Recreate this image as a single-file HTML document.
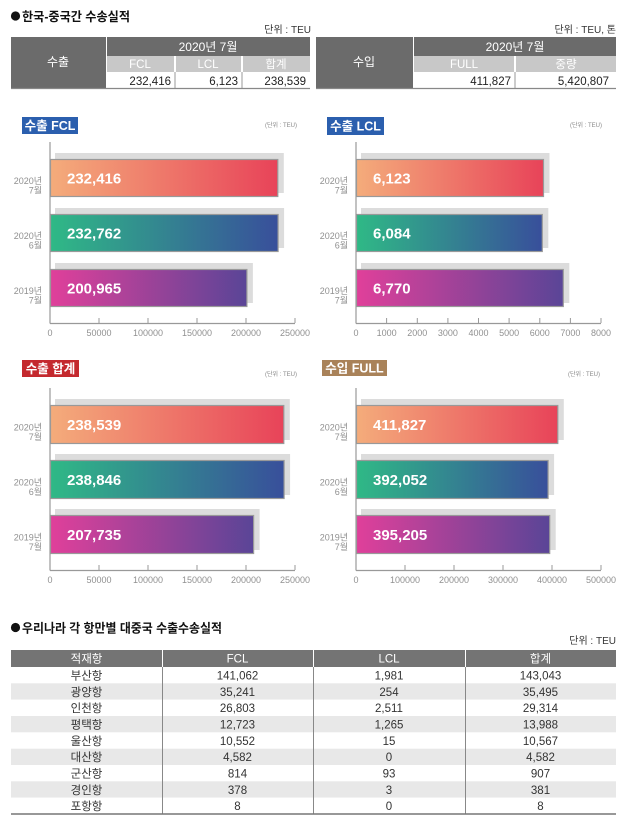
<!DOCTYPE html>
<html><head><meta charset="utf-8">
<style>
html,body{margin:0;padding:0;background:#fff;}
svg{display:block;}
text{font-family:"Liberation Sans","Noto Sans CJK KR",sans-serif;}
</style></head>
<body>
<svg width="626" height="821" viewBox="0 0 626 821" xmlns="http://www.w3.org/2000/svg">
<defs>
<linearGradient id="gO" x1="0" y1="0" x2="1" y2="0"><stop offset="0" stop-color="#f4ac7b"/><stop offset="1" stop-color="#e84359"/></linearGradient>
<linearGradient id="gT" x1="0" y1="0" x2="1" y2="0"><stop offset="0" stop-color="#2fb986"/><stop offset="1" stop-color="#384f9b"/></linearGradient>
<linearGradient id="gP" x1="0" y1="0" x2="1" y2="0"><stop offset="0" stop-color="#e0409a"/><stop offset="1" stop-color="#5a4597"/></linearGradient>
</defs>

<!-- ===== Top title ===== -->
<circle cx="15.5" cy="16" r="4.6" fill="#111"/>
<text x="22" y="21" font-size="12.5" font-weight="bold" fill="#111" textLength="108" lengthAdjust="spacingAndGlyphs">한국-중국간 수송실적</text>
<text x="311" y="33" font-size="10" fill="#333" text-anchor="end">단위 : TEU</text>
<text x="616" y="33" font-size="10" fill="#333" text-anchor="end">단위 : TEU, 톤</text>

<!-- Left table -->
<rect x="11" y="37" width="95" height="51" fill="#6b6b6b"/>
<rect x="107" y="37" width="203" height="19" fill="#6b6b6b"/>
<rect x="107" y="56" width="67" height="16" fill="#c8c8c8"/>
<rect x="176" y="56" width="65" height="16" fill="#c8c8c8"/>
<rect x="243" y="56" width="67" height="16" fill="#c8c8c8"/>
<line x1="175" y1="72" x2="175" y2="88" stroke="#999" stroke-width="1"/>
<line x1="242" y1="72" x2="242" y2="88" stroke="#999" stroke-width="1"/>
<line x1="11" y1="88.5" x2="310" y2="88.5" stroke="#888" stroke-width="1.2"/>
<text x="58" y="66" font-size="12" fill="#fff" text-anchor="middle">수출</text>
<text x="208" y="51" font-size="12" fill="#fff" text-anchor="middle">2020년 7월</text>
<text x="140" y="68" font-size="11.5" fill="#fff" text-anchor="middle">FCL</text>
<text x="208" y="68" font-size="11.5" fill="#fff" text-anchor="middle">LCL</text>
<text x="276" y="68" font-size="11.5" fill="#fff" text-anchor="middle">합계</text>
<text x="171" y="85" font-size="11.5" fill="#222" text-anchor="end">232,416</text>
<text x="238" y="85" font-size="11.5" fill="#222" text-anchor="end">6,123</text>
<text x="306" y="85" font-size="11.5" fill="#222" text-anchor="end">238,539</text>

<!-- Right table -->
<rect x="316" y="37" width="97" height="51" fill="#6b6b6b"/>
<rect x="414" y="37" width="202" height="19" fill="#6b6b6b"/>
<rect x="414" y="56" width="100" height="16" fill="#c8c8c8"/>
<rect x="516" y="56" width="100" height="16" fill="#c8c8c8"/>
<line x1="515" y1="72" x2="515" y2="88" stroke="#999" stroke-width="1"/>
<line x1="316" y1="88.5" x2="616" y2="88.5" stroke="#888" stroke-width="1.2"/>
<text x="364" y="66" font-size="12" fill="#fff" text-anchor="middle">수입</text>
<text x="515" y="51" font-size="12" fill="#fff" text-anchor="middle">2020년 7월</text>
<text x="464" y="68" font-size="11.5" fill="#fff" text-anchor="middle">FULL</text>
<text x="566" y="68" font-size="11.5" fill="#fff" text-anchor="middle">중량</text>
<text x="511" y="85" font-size="11.5" fill="#222" text-anchor="end">411,827</text>
<text x="609" y="85" font-size="11.5" fill="#222" text-anchor="end">5,420,807</text>

<!-- ===== Chart A: 수출 FCL ===== -->
<rect x="22" y="117" width="56" height="17" fill="#2b5fae"/>
<text x="50" y="130" font-size="12.5" font-weight="bold" fill="#fff" text-anchor="middle">수출 FCL</text>
<text x="297" y="127" font-size="6" fill="#888" text-anchor="end">(단위 : TEU)</text>
<g>
<rect x="55" y="153" width="228.8" height="40" fill="#dcdcdc"/>
<rect x="50.5" y="159.5" width="227.3" height="37" fill="url(#gO)" stroke="#999" stroke-width="1.2"/>
<rect x="55" y="208" width="229.1" height="40" fill="#dcdcdc"/>
<rect x="50.5" y="214.5" width="227.6" height="37" fill="url(#gT)" stroke="#999" stroke-width="1.2"/>
<rect x="55" y="263" width="197.9" height="40" fill="#dcdcdc"/>
<rect x="50.5" y="269.5" width="196.4" height="37" fill="url(#gP)" stroke="#999" stroke-width="1.2"/>
<text x="67" y="183.5" font-size="15" font-weight="bold" fill="#fff">232,416</text>
<text x="67" y="238.5" font-size="15" font-weight="bold" fill="#fff">232,762</text>
<text x="67" y="293.5" font-size="15" font-weight="bold" fill="#fff">200,965</text>
<g font-size="9" fill="#909090" text-anchor="end">
<text x="42" y="184">2020년</text><text x="42" y="193.5">7월</text>
<text x="42" y="239">2020년</text><text x="42" y="248.5">6월</text>
<text x="42" y="294">2019년</text><text x="42" y="303.5">7월</text>
</g>
<line x1="50" y1="142" x2="50" y2="323.5" stroke="#999" stroke-width="1.2"/>
<line x1="50" y1="323.5" x2="295" y2="323.5" stroke="#999" stroke-width="1.2"/>
<g stroke="#999" stroke-width="1"><line x1="99" y1="318" x2="99" y2="323"/><line x1="148" y1="318" x2="148" y2="323"/><line x1="197" y1="318" x2="197" y2="323"/><line x1="246" y1="318" x2="246" y2="323"/><line x1="295" y1="318" x2="295" y2="323"/></g>
<g font-size="9" fill="#909090" text-anchor="middle">
<text x="50" y="336">0</text><text x="99" y="336">50000</text><text x="148" y="336">100000</text><text x="197" y="336">150000</text><text x="246" y="336">200000</text><text x="295" y="336">250000</text>
</g>
</g>

<!-- ===== Chart B: 수출 LCL ===== -->
<rect x="327" y="117" width="57" height="18" fill="#2b5fae"/>
<text x="355.5" y="130.5" font-size="12.5" font-weight="bold" fill="#fff" text-anchor="middle">수출 LCL</text>
<text x="602" y="127" font-size="6" fill="#888" text-anchor="end">(단위 : TEU)</text>
<g>
<rect x="361" y="153" width="188.5" height="40" fill="#dcdcdc"/>
<rect x="356.5" y="159.5" width="187" height="37" fill="url(#gO)" stroke="#999" stroke-width="1.2"/>
<rect x="361" y="208" width="187.3" height="40" fill="#dcdcdc"/>
<rect x="356.5" y="214.5" width="185.8" height="37" fill="url(#gT)" stroke="#999" stroke-width="1.2"/>
<rect x="361" y="263" width="208.3" height="40" fill="#dcdcdc"/>
<rect x="356.5" y="269.5" width="206.8" height="37" fill="url(#gP)" stroke="#999" stroke-width="1.2"/>
<text x="373" y="183.5" font-size="15" font-weight="bold" fill="#fff">6,123</text>
<text x="373" y="238.5" font-size="15" font-weight="bold" fill="#fff">6,084</text>
<text x="373" y="293.5" font-size="15" font-weight="bold" fill="#fff">6,770</text>
<g font-size="9" fill="#909090" text-anchor="end">
<text x="348" y="184">2020년</text><text x="348" y="193.5">7월</text>
<text x="348" y="239">2020년</text><text x="348" y="248.5">6월</text>
<text x="348" y="294">2019년</text><text x="348" y="303.5">7월</text>
</g>
<line x1="356" y1="142" x2="356" y2="323.5" stroke="#999" stroke-width="1.2"/>
<line x1="356" y1="323.5" x2="601" y2="323.5" stroke="#999" stroke-width="1.2"/>
<g stroke="#999" stroke-width="1"><line x1="386.6" y1="318" x2="386.6" y2="323"/><line x1="417.3" y1="318" x2="417.3" y2="323"/><line x1="447.9" y1="318" x2="447.9" y2="323"/><line x1="478.5" y1="318" x2="478.5" y2="323"/><line x1="509.1" y1="318" x2="509.1" y2="323"/><line x1="539.8" y1="318" x2="539.8" y2="323"/><line x1="570.4" y1="318" x2="570.4" y2="323"/><line x1="601" y1="318" x2="601" y2="323"/></g>
<g font-size="9" fill="#909090" text-anchor="middle">
<text x="356" y="336">0</text><text x="386.6" y="336">1000</text><text x="417.3" y="336">2000</text><text x="447.9" y="336">3000</text><text x="478.5" y="336">4000</text><text x="509.1" y="336">5000</text><text x="539.8" y="336">6000</text><text x="570.4" y="336">7000</text><text x="601" y="336">8000</text>
</g>
</g>

<!-- ===== Chart C: 수출 합계 ===== -->
<rect x="22" y="360" width="57" height="17" fill="#c4292e"/>
<text x="50.5" y="373" font-size="12.5" font-weight="bold" fill="#fff" text-anchor="middle">수출 합계</text>
<text x="297" y="376" font-size="6" fill="#888" text-anchor="end">(단위 : TEU)</text>
<g>
<rect x="55" y="399" width="234.8" height="41" fill="#dcdcdc"/>
<rect x="50.5" y="405.5" width="233.3" height="38" fill="url(#gO)" stroke="#999" stroke-width="1.2"/>
<rect x="55" y="454" width="235.1" height="41" fill="#dcdcdc"/>
<rect x="50.5" y="460.5" width="233.6" height="38" fill="url(#gT)" stroke="#999" stroke-width="1.2"/>
<rect x="55" y="509" width="204.6" height="41" fill="#dcdcdc"/>
<rect x="50.5" y="515.5" width="203.1" height="38" fill="url(#gP)" stroke="#999" stroke-width="1.2"/>
<text x="67" y="430" font-size="15" font-weight="bold" fill="#fff">238,539</text>
<text x="67" y="485" font-size="15" font-weight="bold" fill="#fff">238,846</text>
<text x="67" y="540" font-size="15" font-weight="bold" fill="#fff">207,735</text>
<g font-size="9" fill="#909090" text-anchor="end">
<text x="42" y="430.5">2020년</text><text x="42" y="440">7월</text>
<text x="42" y="485.5">2020년</text><text x="42" y="495">6월</text>
<text x="42" y="540.5">2019년</text><text x="42" y="550">7월</text>
</g>
<line x1="50" y1="388" x2="50" y2="570.5" stroke="#999" stroke-width="1.2"/>
<line x1="50" y1="570.5" x2="295" y2="570.5" stroke="#999" stroke-width="1.2"/>
<g stroke="#999" stroke-width="1"><line x1="99" y1="565" x2="99" y2="570"/><line x1="148" y1="565" x2="148" y2="570"/><line x1="197" y1="565" x2="197" y2="570"/><line x1="246" y1="565" x2="246" y2="570"/><line x1="295" y1="565" x2="295" y2="570"/></g>
<g font-size="9" fill="#909090" text-anchor="middle">
<text x="50" y="583">0</text><text x="99" y="583">50000</text><text x="148" y="583">100000</text><text x="197" y="583">150000</text><text x="246" y="583">200000</text><text x="295" y="583">250000</text>
</g>
</g>

<!-- ===== Chart D: 수입 FULL ===== -->
<rect x="322" y="360" width="65" height="16" fill="#a98259"/>
<text x="354.5" y="372.5" font-size="12.5" font-weight="bold" fill="#fff" text-anchor="middle">수입 FULL</text>
<text x="600" y="376" font-size="6" fill="#888" text-anchor="end">(단위 : TEU)</text>
<g>
<rect x="361" y="399" width="202.8" height="41" fill="#dcdcdc"/>
<rect x="356.5" y="405.5" width="201.3" height="38" fill="url(#gO)" stroke="#999" stroke-width="1.2"/>
<rect x="361" y="454" width="193.1" height="41" fill="#dcdcdc"/>
<rect x="356.5" y="460.5" width="191.6" height="38" fill="url(#gT)" stroke="#999" stroke-width="1.2"/>
<rect x="361" y="509" width="194.7" height="41" fill="#dcdcdc"/>
<rect x="356.5" y="515.5" width="193.2" height="38" fill="url(#gP)" stroke="#999" stroke-width="1.2"/>
<text x="373" y="430" font-size="15" font-weight="bold" fill="#fff">411,827</text>
<text x="373" y="485" font-size="15" font-weight="bold" fill="#fff">392,052</text>
<text x="373" y="540" font-size="15" font-weight="bold" fill="#fff">395,205</text>
<g font-size="9" fill="#909090" text-anchor="end">
<text x="348" y="430.5">2020년</text><text x="348" y="440">7월</text>
<text x="348" y="485.5">2020년</text><text x="348" y="495">6월</text>
<text x="348" y="540.5">2019년</text><text x="348" y="550">7월</text>
</g>
<line x1="356" y1="388" x2="356" y2="570.5" stroke="#999" stroke-width="1.2"/>
<line x1="356" y1="570.5" x2="601" y2="570.5" stroke="#999" stroke-width="1.2"/>
<g stroke="#999" stroke-width="1"><line x1="405" y1="565" x2="405" y2="570"/><line x1="454" y1="565" x2="454" y2="570"/><line x1="503" y1="565" x2="503" y2="570"/><line x1="552" y1="565" x2="552" y2="570"/><line x1="601" y1="565" x2="601" y2="570"/></g>
<g font-size="9" fill="#909090" text-anchor="middle">
<text x="356" y="583">0</text><text x="405" y="583">100000</text><text x="454" y="583">200000</text><text x="503" y="583">300000</text><text x="552" y="583">400000</text><text x="601" y="583">500000</text>
</g>
</g>

<!-- ===== Bottom section ===== -->
<circle cx="15.5" cy="627.5" r="4.6" fill="#111"/>
<text x="22" y="632.5" font-size="12.5" font-weight="bold" fill="#111" textLength="200" lengthAdjust="spacingAndGlyphs">우리나라 각 항만별 대중국 수출수송실적</text>
<text x="616" y="644" font-size="10" fill="#333" text-anchor="end">단위 : TEU</text>

<rect x="11" y="650" width="151" height="17" fill="#747474"/>
<rect x="163" y="650" width="150" height="17" fill="#747474"/>
<rect x="314" y="650" width="151" height="17" fill="#747474"/>
<rect x="466" y="650" width="150" height="17" fill="#747474"/>
<g font-size="11.5" fill="#fff" text-anchor="middle">
<text x="86.5" y="662.5">적재항</text><text x="237.5" y="662.5">FCL</text><text x="389" y="662.5">LCL</text><text x="540.5" y="662.5">합계</text>
</g>
<g fill="#e8e8e8">
<rect x="11" y="683.3" width="605" height="16.3"/>
<rect x="11" y="716" width="605" height="16.3"/>
<rect x="11" y="748.7" width="605" height="16.3"/>
<rect x="11" y="781.3" width="605" height="16.3"/>
</g>
<g stroke="#888" stroke-width="1">
<line x1="162.5" y1="667" x2="162.5" y2="814"/>
<line x1="313.5" y1="667" x2="313.5" y2="814"/>
<line x1="465.5" y1="667" x2="465.5" y2="814"/>
</g>
<line x1="11" y1="814" x2="616" y2="814" stroke="#777" stroke-width="1.5"/>
<g font-size="11.5" fill="#333" text-anchor="middle">
<text x="86.5" y="679.5">부산항</text><text x="237.5" y="679.5">141,062</text><text x="389" y="679.5">1,981</text><text x="540.5" y="679.5">143,043</text>
<text x="86.5" y="695.8">광양항</text><text x="237.5" y="695.8">35,241</text><text x="389" y="695.8">254</text><text x="540.5" y="695.8">35,495</text>
<text x="86.5" y="712.1">인천항</text><text x="237.5" y="712.1">26,803</text><text x="389" y="712.1">2,511</text><text x="540.5" y="712.1">29,314</text>
<text x="86.5" y="728.5">평택항</text><text x="237.5" y="728.5">12,723</text><text x="389" y="728.5">1,265</text><text x="540.5" y="728.5">13,988</text>
<text x="86.5" y="744.8">울산항</text><text x="237.5" y="744.8">10,552</text><text x="389" y="744.8">15</text><text x="540.5" y="744.8">10,567</text>
<text x="86.5" y="761.1">대산항</text><text x="237.5" y="761.1">4,582</text><text x="389" y="761.1">0</text><text x="540.5" y="761.1">4,582</text>
<text x="86.5" y="777.5">군산항</text><text x="237.5" y="777.5">814</text><text x="389" y="777.5">93</text><text x="540.5" y="777.5">907</text>
<text x="86.5" y="793.8">경인항</text><text x="237.5" y="793.8">378</text><text x="389" y="793.8">3</text><text x="540.5" y="793.8">381</text>
<text x="86.5" y="810.1">포항항</text><text x="237.5" y="810.1">8</text><text x="389" y="810.1">0</text><text x="540.5" y="810.1">8</text>
</g>
</svg>
</body></html>
